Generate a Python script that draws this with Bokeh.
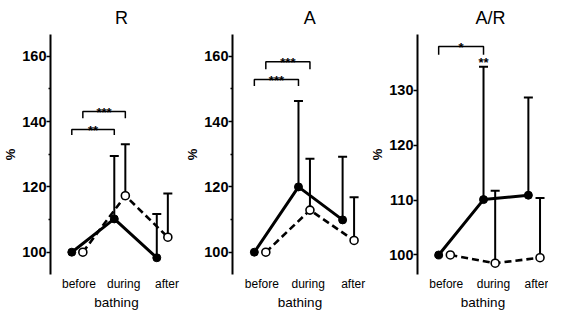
from bokeh.plotting import figure
from bokeh.layouts import row
from bokeh.models import FixedTicker, Range1d, Whisker, TeeHead, ColumnDataSource, LinearAxis
from bokeh.embed import file_html
from bokeh.resources import INLINE

categories = ["before", "during", "after"]
x_axis_title = "bathing"
y_axis_title = "%"

# ---- panel R ----
r_solid_mean = [100, 110.2, 98.3]
r_solid_sd = [0, 19.3, 13.4]
r_open_mean = [100, 117.3, 104.6]
r_open_sd = [0, 15.8, 13.4]
r_brackets = [("solid", 0, 1, 137.6, 135.9, "**"), ("open", 0, 1, 143.1, 141.0, "***")]
r_marks = []

# ---- panel A ----
a_solid_mean = [100, 120.0, 109.9]
a_solid_sd = [0, 26.3, 19.3]
a_open_mean = [100, 112.9, 103.6]
a_open_sd = [0, 15.7, 13.2]
a_brackets = [("solid", 0, 1, 152.9, 150.9, "***"), ("open", 0, 1, 158.3, 156.0, "***")]
a_marks = []

# ---- panel A/R ----
ar_solid_mean = [100, 110.1, 110.9]
ar_solid_sd = [0, 24.2, 17.8]
ar_open_mean = [100, 98.5, 99.5]
ar_open_sd = [0, 13.2, 10.9]
ar_brackets = [("solid", 0, 1, 138.0, 136.5, "*")]
ar_marks = [("solid", 1, "**")]

OPEN_OFF = 0.26
LABEL_POS = [0.17, 1.22, 2.24]


def make_panel(title, title_x, s_mean, s_sd, o_mean, o_sd, brackets, marks,
               yticks, yminor, yr, xr, width, left):
    p = figure(width=width, height=313, output_backend="svg", toolbar_location=None,
               x_range=Range1d(*xr), y_range=Range1d(*yr),
               min_border_left=left, min_border_right=0, min_border_top=34,
               min_border_bottom=39)
    p.outline_line_color = None
    p.grid.visible = False
    p.background_fill_color = "white"
    p.border_fill_color = "white"

    # panel title as a label-only axis above the frame
    tax = LinearAxis(ticker=FixedTicker(ticks=[title_x]),
                     major_label_overrides={title_x: title})
    tax.axis_line_color = None
    tax.major_tick_line_color = None
    tax.minor_tick_line_color = None
    tax.major_tick_out = 0
    tax.major_tick_in = 0
    tax.minor_tick_out = 0
    tax.minor_tick_in = 0
    tax.major_label_standoff = 7
    tax.major_label_text_font = "Liberation Sans"
    tax.major_label_text_font_size = "18px"
    tax.major_label_text_color = "black"
    p.add_layout(tax, "above")

    xs = [0, 1, 2]
    xo = [x + OPEN_OFF for x in xs]
    off = {"solid": 0.0, "open": OPEN_OFF}

    # error bars (upper only)
    for xv, m, sd in ((xs, s_mean, s_sd), (xo, o_mean, o_sd)):
        ex = [x for x, s in zip(xv, sd) if s > 0]
        em = [mm for mm, s in zip(m, sd) if s > 0]
        eu = [mm + s for mm, s in zip(m, sd) if s > 0]
        src = ColumnDataSource(dict(x=ex, lo=em, hi=eu))
        w = Whisker(source=src, base="x", lower="lo", upper="hi",
                    line_color="black", line_width=2, level="underlay",
                    upper_head=TeeHead(size=9, line_width=2, line_color="black"),
                    lower_head=None)
        p.add_layout(w)

    p.line(xs, s_mean, line_color="black", line_width=3)
    p.line(xo, o_mean, line_color="black", line_width=2.6, line_dash="7 4")
    p.scatter(xs, s_mean, size=8, fill_color="black", line_color="black")
    p.scatter(xo, o_mean, size=8, fill_color="white", line_color="black", line_width=1.6)

    # significance brackets
    for ser, i0, i1, yb, ye, lab in brackets:
        x0 = i0 + off[ser]
        x1 = i1 + off[ser]
        p.line([x0, x0, x1, x1], [ye, yb, yb, ye], line_color="black", line_width=1.5)
        p.text([(x0 + x1) / 2], [yb], text=[lab], text_align="center",
               text_baseline="alphabetic", text_font_size="13px", text_font_style="bold",
               y_offset=1, text_color="black")
    for ser, i, lab in marks:
        smean = s_mean if ser == "solid" else o_mean
        ssd = s_sd if ser == "solid" else o_sd
        p.text([i + off[ser]], [smean[i] + ssd[i]], text=[lab], text_align="center",
               text_baseline="alphabetic", text_font_size="13px", text_font_style="bold",
               y_offset=-4, text_color="black")

    ya = p.yaxis[0]
    ya.ticker = FixedTicker(ticks=yticks, minor_ticks=yminor)
    ya.axis_line_width = 2
    ya.axis_line_color = "black"
    ya.major_tick_out = 4
    ya.major_tick_in = 0
    ya.major_tick_line_width = 1.5
    ya.minor_tick_out = 2
    ya.minor_tick_in = 0
    ya.minor_tick_line_width = 1.5
    ya.major_label_standoff = 0
    ya.major_label_text_font = "Liberation Sans"
    ya.major_label_text_font_size = "14.5px"
    ya.major_label_text_font_style = "bold"
    ya.major_label_text_color = "black"
    ya.axis_label = y_axis_title
    ya.axis_label_standoff = 1
    ya.axis_label_text_font = "Liberation Sans"
    ya.axis_label_text_font_size = "13px"
    ya.axis_label_text_font_style = "bold"
    ya.axis_label_text_color = "black"

    xa = p.below[0]
    xa.ticker = FixedTicker(ticks=LABEL_POS)
    xa.major_label_overrides = {k: v for k, v in zip(LABEL_POS, categories)}
    xa.axis_line_color = None
    xa.major_tick_line_color = None
    xa.minor_tick_line_color = None
    xa.major_tick_out = 0
    xa.major_tick_in = 0
    xa.minor_tick_out = 0
    xa.minor_tick_in = 0
    xa.major_label_standoff = 2
    xa.major_label_text_font = "Liberation Sans"
    xa.major_label_text_font_size = "12px"
    xa.major_label_text_color = "black"
    xa.axis_label = x_axis_title
    xa.axis_label_standoff = 1
    xa.axis_label_text_font = "Liberation Sans"
    xa.axis_label_text_font_size = "13.5px"
    xa.axis_label_text_font_style = "normal"
    xa.axis_label_text_color = "black"
    return p


p1 = make_panel("R", 1.17, r_solid_mean, r_solid_sd, r_open_mean, r_open_sd, r_brackets, r_marks,
                [100, 120, 140, 160], [110, 130, 150], (93.17, 166.68), (-0.501, 2.605), 182, 44)
p2 = make_panel("A", 1.256, a_solid_mean, a_solid_sd, a_open_mean, a_open_sd, a_brackets, a_marks,
                [100, 120, 140, 160], [110, 130, 150], (93.17, 166.68), (-0.495, 2.564), 185, 45)
p3 = make_panel("A/R", 1.157, ar_solid_mean, ar_solid_sd, ar_open_mean, ar_open_sd, ar_brackets, ar_marks,
                [100, 110, 120, 130], [], (96.44, 140.2), (-0.472, 2.449), 181, 45)

layout = row(p1, p2, p3)
open("out.html", "w").write(file_html(layout, INLINE))
